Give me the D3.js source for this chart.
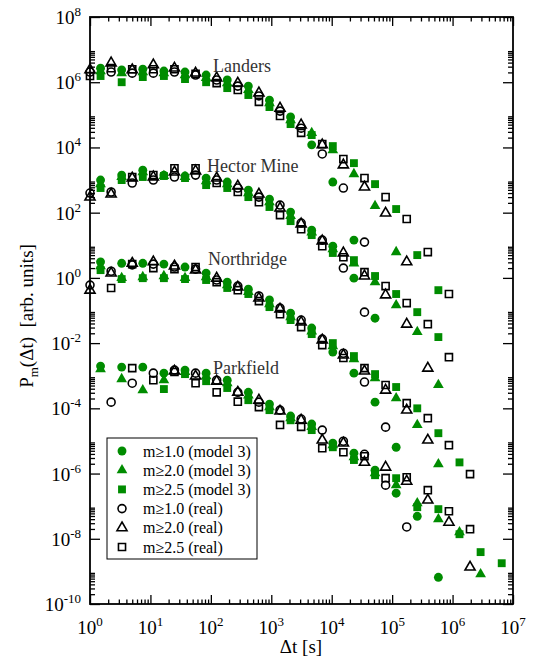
<!DOCTYPE html>
<html>
<head>
<meta charset="utf-8">
<script src="https://cdn.jsdelivr.net/npm/d3@7"></script>
<style>
  body { margin: 0; background: #fff; }
  svg { font-family: "Liberation Serif", "Times New Roman", serif; }
</style>
</head>
<body>
<svg id="chart" width="537" height="662"></svg>
<script>
// time bins (s) - real catalogues and model use interleaved log bins
const dtReal = [1, 2.236, 4.998, 11.17, 24.98, 55.85, 124.8, 279.1, 624.0, 1395, 3119, 6973, 15590, 34850, 77920, 174200, 389400, 870500, 1946000, 4351000];
const dtModel = [1.495, 3.343, 7.473, 16.70, 37.35, 83.5, 186.7, 417.3, 933, 2086, 4664, 10426, 23310, 52110, 116500, 260400, 582200, 1302000, 2910000, 6506000];

// Landers
const landersRealM10 = [2.05e6, 2.05e6, 1.9e6, 1.9e6, 2.05e6, 1.66e6, 1.17e6, 7.6e5, 3.8e5, 1.3e5, 3.9e4, 6.3e3, 5.7e2, 12.5];
const landersRealM20 = [2.4e6, 3.9e6, 2.4e6, 3.4e6, 2.7e6, 1.9e6, 1.35e6, 9.4e5, 4.7e5, 1.6e5, 4.9e4, 1.2e4, 2.9e3, 6.1e2, 97, 3.1];
const landersRealM25 = [1.55e6, 2.7e6, 2.5e6, 2.5e6, 2.5e6, 1.8e6, 9.4e5, 5.8e5, 2.5e5, 9.2e4, 2.8e4, 1.27e4, 4.4e3, 1.15e3, 300, 64, 6.2, 0.32];
const landersModelM10 = [2.7e6, 2.4e6, 2.5e6, 2.2e6, 2.05e6, 1.66e6, 1.17e6, 7.6e5, 2.8e5, 8.6e4, 1.2e4, 870, 14.4];
const landersModelM20 = [2.2e6, 1.9e6, 2.05e6, 1.9e6, 1.66e6, 1.35e6, 9.4e5, 5.8e5, 2.3e5, 6.9e4, 2.8e4, 8.3e3, 1.53e3, 160, 6.2];
const landersModelM25 = [1.55e6, 1.0e6, 1.44e6, 1.55e6, 1.25e6, 1.0e6, 6.6e5, 4.05e5, 1.73e5, 5.2e4, 2.4e4, 1.1e4, 3.3e3, 750, 129, 5.0, 0.42];

// Hector Mine
const hectorRealM10 = [400, 430, 810, 1000, 1240, 1420, 1000, 570, 300, 171, 48, 14.4, 2.0, 0.089];
const hectorRealM20 = [300, 370, 1150, 1240, 1760, 1900, 1150, 650, 370, 138, 45, 13.5, 5.8, 1.14, 0.30, 0.038, 0.0017];
const hectorRealM25 = [null, null, 1240, 1420, 2300, 2300, 810, 430, 210, 84, 31, 9.4, 4.3, 1.5, 0.56, 0.169, 0.038, 0.0037];
const hectorModelM10 = [1000, 1420, 2000, 1420, 1330, 1150, 870, 490, 260, 104, 29, 9.4, 0.98, 0.058];
const hectorModelM20 = [750, 1240, 1760, 1330, 1240, 930, 750, 400, 210, 79, 25, 7.6, 2.8, 0.74, 0.146, 0.022, 5.2e-4];
const hectorModelM25 = [570, 1000, 1240, 1330, 1150, 700, 570, 300, 149, 55, 20.5, 5.8, 3.5, 1.14, 0.32, 0.089, 0.0153];

// Northridge
const northridgeRealM10 = [0.60, 1.6, 2.5, 2.65, 2.15, 1.86, 0.86, 0.56, 0.28, 0.118, 0.051, 0.0133, 0.0049, 6.4e-4, 2.65e-5];
const northridgeRealM20 = [0.42, 1.4, 2.8, 3.1, 2.3, 1.73, 0.98, 0.52, 0.24, 0.11, 0.044, 0.0124, 0.0043, 0.00138, 3.6e-4, 8.8e-5, 1.06e-5];
const northridgeRealM25 = [null, 0.49, 2.65, 2.0, 1.86, 2.15, 0.74, 0.42, 0.194, 0.077, 0.031, 0.0087, 0.0035, 0.00171, 5.2e-4, 1.44e-4, 5.0e-5, 7.4e-6, 9.6e-7];
const northridgeModelM10 = [3.1, 2.8, 2.8, 2.65, 2.15, 1.4, 0.74, 0.45, 0.21, 0.083, 0.029, 0.0053, 0.0012, 1.55e-4, 6.4e-6];
const northridgeModelM20 = [2.3, 1.0, 1.06, 1.14, 1.0, 1.06, 0.60, 0.37, 0.157, 0.063, 0.023, 0.0081, 0.0032, 8.4e-4, 2.05e-4, 3.1e-5, 1.94e-6];
const northridgeModelM25 = [1.73, 0.92, 0.98, 0.98, 0.92, 0.86, 0.49, 0.32, 0.127, 0.051, 0.0189, 0.010, 0.0040, 0.00112, 4.5e-4, 1.0e-4, 1.73e-5, 2.2e-6];

// Parkfield
const parkfieldRealM10 = [null, 1.55e-4, 5.9e-4, 1.2e-3, 1.49e-3, 1.2e-3, 7.3e-4, 3.1e-4, 1.55e-4, 8.8e-5, 4.7e-5, 2.15e-5, 9.8e-6, 3.9e-6, 4.4e-7, 2.3e-8];
const parkfieldRealM20 = [null, null, null, null, 1.38e-3, 9.7e-4, 6.8e-4, 3.1e-4, 1.78e-4, 8.2e-5, 4.3e-5, 1.06e-5, 8.6e-6, 2.2e-6, 1.57e-6, 5.8e-7, 1.53e-7, 3.2e-8, 1.35e-9];
const parkfieldRealM25 = [null, null, 1.71e-3, 7.3e-4, 1.3e-3, 5.9e-4, 3.1e-4, 1.6e-4, 1.09e-4, 3.1e-5, 2.7e-5, 6.0e-6, 4.5e-6, 3.4e-6, 7.2e-7, 7.7e-7, 3.1e-7, 7.0e-8, 1.97e-8];
const parkfieldModelM10 = [1.97e-3, 1.84e-3, 1.84e-3, 1.2e-3, 1.49e-3, 1.2e-3, 7.3e-4, 3.1e-4, 1.35e-4, 5.8e-5, 3.3e-5, 8.6e-6, 4.2e-6, 1.27e-6, 2.5e-7, 4.9e-8, 6.6e-10];
const parkfieldModelM20 = [1.59e-3, 7.9e-4, 3.6e-4, 7.3e-4, 1.3e-3, 9.7e-4, 5.9e-4, 2.5e-4, 1.09e-4, 5.0e-5, 2.7e-5, 7.4e-6, 3.2e-6, 1.03e-6, 4.4e-7, 1.24e-7, 4.0e-8, 1.59e-8, 8.2e-10];
const parkfieldModelM25 = [null, null, null, 3.9e-4, 1.12e-3, 6.8e-4, 4.2e-4, 1.78e-4, 8.8e-5, 4.3e-5, 2.15e-5, 6.4e-6, 2.6e-6, 8.9e-7, 7.2e-7, 9.3e-8, 8.1e-8, 1.38e-8, 3.9e-9, 1.78e-9];

const quakeNames = ['Landers', 'Hector Mine', 'Northridge', 'Parkfield'];
const quakeLabelAt = [[213, 2.05e6], [207, 1.76e3], [208, 2.4], [213, 1.12e-3]]; // label anchor (x px, P value)
const legendLabels = ['m\u22651.0 (model 3)', 'm\u22652.0 (model 3)', 'm\u22652.5 (model 3)', 'm\u22651.0 (real)', 'm\u22652.0 (real)', 'm\u22652.5 (real)'];
const xTickExp = [0, 1, 2, 3, 4, 5, 6, 7];
const yTickExp = [8, 6, 4, 2, 0, -2, -4, -6, -8, -10];

const green = '#008c00';
const svg = d3.select('#chart');
const plotLeft = 90, plotRight = 513, plotTop = 17, plotBottom = 604;

const x = d3.scaleLog().domain([1, 1e7]).range([plotLeft, plotRight]);
const y = d3.scaleLog().domain([1e-10, 1e8]).range([plotBottom, plotTop]);

// minor ticks
const xMinor = [];
xTickExp.slice(0, -1).forEach(e => { for (let k = 2; k <= 9; k++) xMinor.push(k * 10 ** e); });
const yMinor = [];
yTickExp.slice(1).forEach(e => { for (let k = 2; k <= 9; k++) yMinor.push(k * 10 ** e); });
const xMajor = xTickExp.map(e => 10 ** e);
const yMajor = yTickExp.map(e => 10 ** e);

function tickAxis(axis, tr, vals, size) {
  svg.append('g')
    .attr('transform', tr)
    .call(axis.tickValues(vals).tickSize(size).tickSizeOuter(0).tickFormat(''))
    .call(g => g.select('.domain').remove())
    .call(g => g.selectAll('line').attr('stroke', '#000').attr('stroke-width', 1.3));
}
tickAxis(d3.axisBottom(x), `translate(0,${plotBottom})`, xMajor, -9);
tickAxis(d3.axisBottom(x), `translate(0,${plotBottom})`, xMinor, -4.5);
tickAxis(d3.axisTop(x), `translate(0,${plotTop})`, xMajor, -9);
tickAxis(d3.axisTop(x), `translate(0,${plotTop})`, xMinor, -4.5);
tickAxis(d3.axisLeft(y), `translate(${plotLeft},0)`, yMajor, -10);
tickAxis(d3.axisLeft(y), `translate(${plotLeft},0)`, yMinor, -5);
tickAxis(d3.axisRight(y), `translate(${plotRight},0)`, yMajor, -10);
tickAxis(d3.axisRight(y), `translate(${plotRight},0)`, yMinor, -5);

svg.append('rect')
  .attr('x', plotLeft).attr('y', plotTop)
  .attr('width', plotRight - plotLeft).attr('height', plotBottom - plotTop)
  .attr('fill', 'none').attr('stroke', '#000').attr('stroke-width', 1.8);

// tick labels with superscripts
xTickExp.forEach(e => {
  const t = svg.append('text')
    .attr('x', x(10 ** e)).attr('y', 634)
    .attr('text-anchor', 'middle').attr('font-size', 19);
  t.append('tspan').text('10');
  t.append('tspan').attr('dy', -8).attr('font-size', 13).text(e);
});
yTickExp.forEach(e => {
  const t = svg.append('text')
    .attr('x', 81).attr('y', y(10 ** e) + 7)
    .attr('text-anchor', 'end').attr('font-size', 19);
  t.append('tspan').text('10');
  t.append('tspan').attr('dy', -8).attr('font-size', 13).text(e);
});

// axis titles
svg.append('text')
  .attr('x', 301).attr('y', 653)
  .attr('text-anchor', 'middle').attr('font-size', 19)
  .text('\u0394t [s]');

const yt = svg.append('text')
  .attr('transform', 'translate(33,316) rotate(-90)')
  .attr('text-anchor', 'middle').attr('font-size', 19);
yt.append('tspan').text('P');
yt.append('tspan').attr('dy', 5).attr('font-size', 13).text('m');
yt.append('tspan').attr('dy', -5).text('(\u0394t)\u00a0\u00a0[arb. units]');

// series table
const shapes = { c: d3.symbolCircle, t: d3.symbolTriangle, s: d3.symbolSquare };
const filledSize = { c: 62, t: 50, s: 62 };
const openSize = { c: 50, t: 44, s: 50 };
const series = [
  [dtModel, landersModelM10, 'c', true], [dtModel, landersModelM20, 't', true], [dtModel, landersModelM25, 's', true],
  [dtModel, hectorModelM10, 'c', true], [dtModel, hectorModelM20, 't', true], [dtModel, hectorModelM25, 's', true],
  [dtModel, northridgeModelM10, 'c', true], [dtModel, northridgeModelM20, 't', true], [dtModel, northridgeModelM25, 's', true],
  [dtModel, parkfieldModelM10, 'c', true], [dtModel, parkfieldModelM20, 't', true], [dtModel, parkfieldModelM25, 's', true],
  [dtReal, landersRealM10, 'c', false], [dtReal, landersRealM20, 't', false], [dtReal, landersRealM25, 's', false],
  [dtReal, hectorRealM10, 'c', false], [dtReal, hectorRealM20, 't', false], [dtReal, hectorRealM25, 's', false],
  [dtReal, northridgeRealM10, 'c', false], [dtReal, northridgeRealM20, 't', false], [dtReal, northridgeRealM25, 's', false],
  [dtReal, parkfieldRealM10, 'c', false], [dtReal, parkfieldRealM20, 't', false], [dtReal, parkfieldRealM25, 's', false]
];

function marker(sel, shape, model) {
  sel.attr('d', d3.symbol(shapes[shape], model ? filledSize[shape] : openSize[shape]))
    .attr('fill', model ? green : 'none')
    .attr('stroke', model ? 'none' : '#000')
    .attr('stroke-width', 1.6);
}

series.forEach(([bins, vals, shape, model]) => {
  const pts = vals.map((v, i) => ({ t: bins[i], p: v })).filter(d => d.p != null);
  svg.append('g').selectAll('path')
    .data(pts)
    .enter()
    .append('path')
    .attr('transform', d => `translate(${x(d.t)},${y(d.p)})`)
    .call(marker, shape, model);
});

// earthquake names
quakeNames.forEach((name, i) => {
  svg.append('text')
    .attr('x', quakeLabelAt[i][0]).attr('y', y(quakeLabelAt[i][1]))
    .attr('font-size', 18).attr('fill', '#333')
    .text(name);
});

// legend
const lg = svg.append('g');
lg.append('rect')
  .attr('x', 107).attr('y', 438).attr('width', 150).attr('height', 121)
  .attr('fill', '#fff').attr('stroke', '#000').attr('stroke-width', 1);
legendLabels.forEach((label, i) => {
  const cy = 451 + i * 19.2;
  lg.append('path')
    .attr('transform', `translate(122,${cy})`)
    .call(marker, ['c', 't', 's'][i % 3], i < 3);
  lg.append('text')
    .attr('x', 143).attr('y', cy + 5.5)
    .attr('font-size', 16)
    .text(label);
});
</script>
</body>
</html>
